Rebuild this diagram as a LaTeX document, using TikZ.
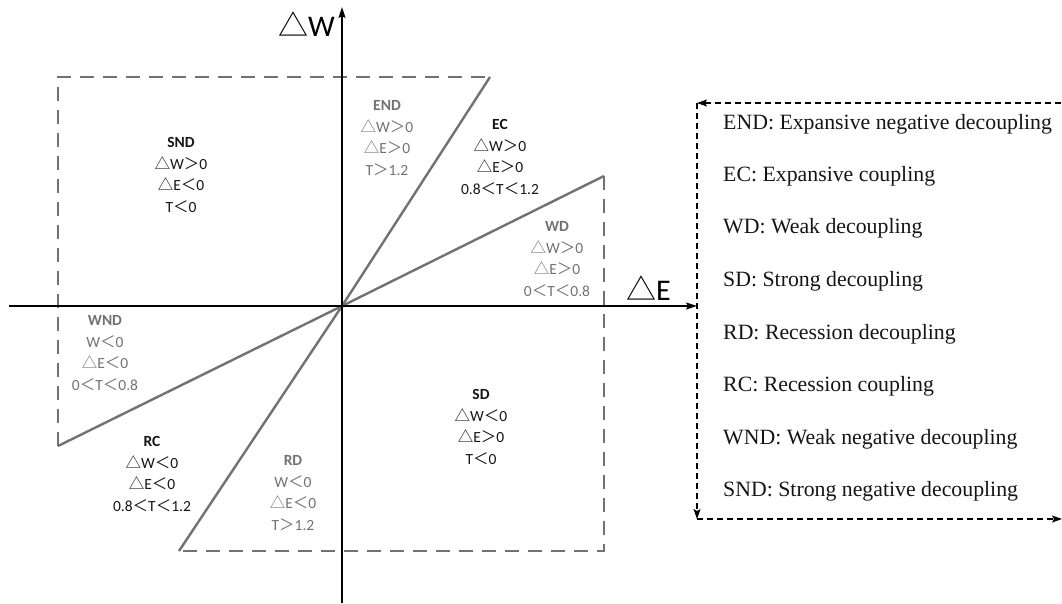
\documentclass[tikz,border=0pt]{standalone}
\usepackage{fontspec}
\setmainfont{Carlito}
\newfontfamily\cjk{Noto Sans CJK SC}
\newfontfamily\tnr{Liberation Serif}
\usetikzlibrary{arrows.meta}
\newcommand{\mytri}{{\cjk △}}
\newcommand{\mylt}{{\cjk ＜}}
\newcommand{\mygt}{{\cjk ＞}}
\definecolor{lgray}{HTML}{727272}
\definecolor{dtext}{HTML}{151515}
\tikzset{legtip/.tip={Stealth[length=10pt,width=7pt,inset=2pt]},
  axtip/.tip={Stealth[length=11pt,width=7pt,inset=2pt]}}
\begin{document}
\begin{tikzpicture}[x=1pt,y=-1pt,
  axis/.style={draw=black,line width=1.4pt},
  boundary/.style={draw=lgray,line width=2.4pt},
  dashbound/.style={draw=lgray,line width=2.4pt,dash pattern=on 14pt off 9pt},
  legline/.style={draw=black,line width=1.1pt,dash pattern=on 6pt off 4pt},
  region/.style={align=center,font=\fontsize{15.5}{21.7}\selectfont,inner sep=0pt},
  blk/.style={region,text=dtext},
  gry/.style={region,text=lgray},
  legtext/.style={anchor=west,font=\tnr\fontsize{21.8}{21.8}\selectfont,inner sep=0pt,text=dtext},
  axlabel/.style={font=\fontsize{30}{30}\selectfont,inner sep=0pt}]
\useasboundingbox (0,0) rectangle (1062,603);
% key points
\coordinate (O) at (342,306);
\coordinate (tl) at (58,77);
\coordinate (tr) at (490,77);
\coordinate (wl) at (58,446);
\coordinate (wr) at (604,176);
\coordinate (br) at (604,551);
\coordinate (bl) at (179,551);
\coordinate (xs) at (9,306);
\coordinate (xe) at (697,306);
\coordinate (ys) at (342,603);
\coordinate (ye) at (342,7);
\coordinate (Lt) at (697,103);
\coordinate (Ltr) at (1062,103);
\coordinate (Lb) at (697,519);
\coordinate (Lbr) at (1062,519);
% regions
\draw[dashbound] (wl) -- (tl) -- (tr);
\draw[dashbound] (wr) -- (br) -- (bl);
\draw[boundary] (tr) -- (O) -- (bl);
\draw[boundary] (wl) -- (O) -- (wr);
% axes
\draw[axis,-axtip] (xs) -- (xe);
\draw[axis,-axtip] (ys) -- (ye);
\node[axlabel,anchor=east] (wlab) at (335,24) {{\cjk △}W};
\node[axlabel,anchor=west] (elab) at (626,288) {{\cjk △}E};
% region labels
\node[blk] (snd) at (181,175) {\textbf{SND}\\\mytri W\mygt 0\\\mytri E\mylt 0\\T\mylt 0};
\node[gry] (endl) at (387,138) {\textbf{END}\\\mytri W\mygt 0\\\mytri E\mygt 0\\T\mygt 1.2};
\node[blk] (ec) at (500,157) {\textbf{EC}\\\mytri W\mygt 0\\\mytri E\mygt 0\\0.8\mylt T\mylt 1.2};
\node[gry] (wd) at (557,259) {\textbf{WD}\\\mytri W\mygt 0\\\mytri E\mygt 0\\0\mylt T\mylt 0.8};
\node[gry] (wnd) at (105,353) {\textbf{WND}\\W\mylt 0\\\mytri E\mylt 0\\0\mylt T\mylt 0.8};
\node[blk] (rc) at (152,474) {\textbf{RC}\\\mytri W\mylt 0\\\mytri E\mylt 0\\0.8\mylt T\mylt 1.2};
\node[gry] (rd) at (293,493) {\textbf{RD}\\W\mylt 0\\\mytri E\mylt 0\\T\mygt 1.2};
\node[blk] (sd) at (481,427) {\textbf{SD}\\\mytri W\mylt 0\\\mytri E\mygt 0\\T\mylt 0};
% legend frame
\draw[legline,legtip-] (Lt) -- (Ltr);
\draw[legline,-legtip] (Lt) -- (Lb);
\draw[legline,-legtip] (Lb) -- (Lbr);
% legend text
\node[legtext] (l1) at (723,124) {END: Expansive negative decoupling};
\node[legtext] (l2) at (723,176) {EC: Expansive coupling};
\node[legtext] (l3) at (723,228) {WD: Weak decoupling};
\node[legtext] (l4) at (723,281) {SD: Strong decoupling};
\node[legtext] (l5) at (723,334) {RD: Recession decoupling};
\node[legtext] (l6) at (723,386) {RC: Recession coupling};
\node[legtext] (l7) at (723,439) {WND: Weak negative decoupling};
\node[legtext] (l8) at (723,491) {SND: Strong negative decoupling};
\end{tikzpicture}
\end{document}
